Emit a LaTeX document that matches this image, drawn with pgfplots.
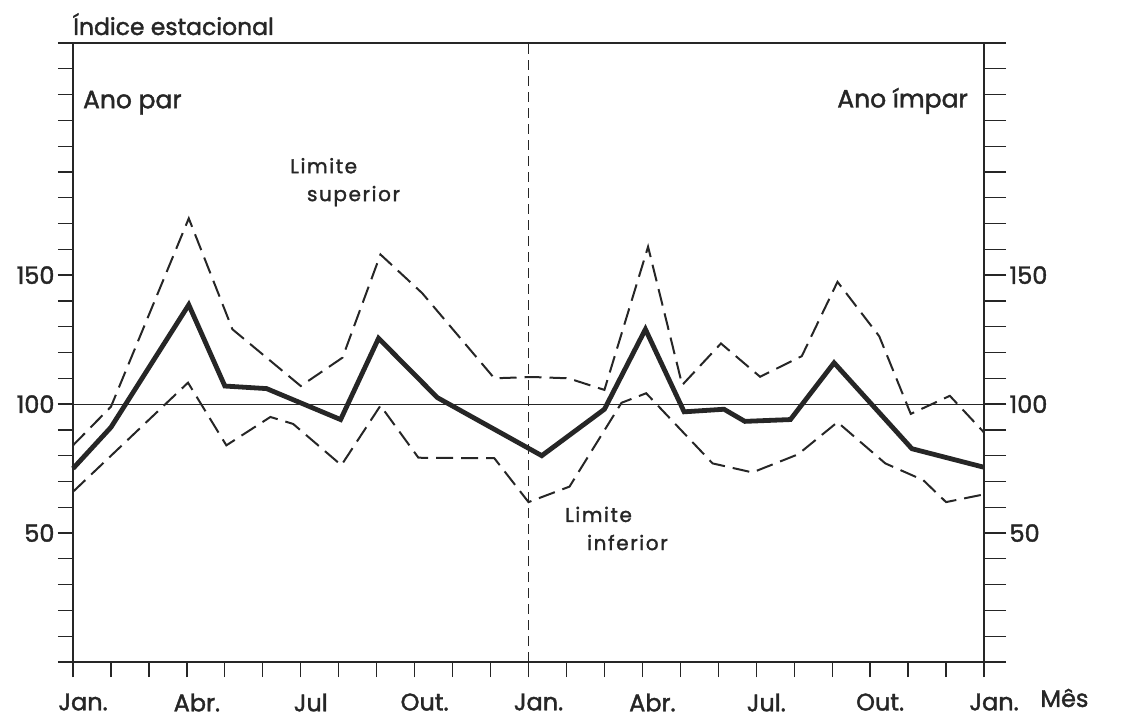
\documentclass[border=0pt]{standalone}
\usepackage{pgfplots}
\pgfplotsset{compat=1.18}
\usepackage{pgfplotstable}
\usepackage{fontspec}
\setmainfont{Poppins}[FakeBold=1.6,AutoFakeBold=0]
\newfontfamily\mainfnt{Poppins}[FakeBold=1.6]
\newfontfamily\limfont{Poppins}[LetterSpace=8,FakeBold=1.6]
\definecolor{ink}{RGB}{38,38,38}

\pgfplotstableread{
x y
0 75
1 91
3.05 138.5
4 107
5.1 106
7.05 94
8.05 125.5
9.6 102.5
12.35 80
14 98
15.08 129
16.1 97
17.15 98
17.7 93.3
18.9 94
20.05 116
22.1 82.7
24 75.5
}\meantab

\pgfplotstableread{
x y
0 84
1 99
3.05 172
4.2 129
6 107
7.1 118
8.1 158
9.2 143
11.1 110
12.1 110.5
13.05 110
14 105.5
15.15 161
16.05 107.4
17.07 123.5
18.1 110.6
19.2 118.6
20.14 147.4
21.24 126.3
22.07 96.2
23.1 103.2
24 89
}\uppertab

\pgfplotstableread{
x y
0 66
3.03 108.3
4.04 84
5.2 95
5.8 92.3
7.07 76.3
8.1 99.4
9.1 79.2
11.1 79
12 62
13.08 68
14.45 100.5
15.1 104.2
16.85 77
17.9 73.5
19.1 80.5
20.14 93
21.4 77
22.4 70.5
23 62
24 65
}\lowertab

\begin{document}
\begin{tikzpicture}[x=1pt,y=1pt]
\useasboundingbox (-73,-56) rectangle (1053,662);
\begin{axis}[
  at={(0,0)}, anchor=south west,
  scale only axis, width=911pt, height=619pt,
  xmin=0, xmax=24, ymin=0, ymax=240,
  clip=false,
  axis line style={ink, line width=1.3pt},
  every tick/.style={ink, line width=1.3pt},
  tick align=outside,
  major tick length=15pt, minor tick length=15pt,
  xtick={0,3,...,24}, minor xtick={0,...,24},
  xticklabels={Jan.,Abr.,Jul,Out.,Jan.,Abr.,Jul.,Out.,Jan.},
  xtick pos=left,
  ytick={50,100,150}, minor ytick={0,10,...,240},
  yticklabels={50,100,150},
  ytick pos=left,
  ticklabel style={font=\mainfnt\fontsize{24pt}{24pt}\selectfont, text=ink},
  xticklabel style={xshift=10pt, yshift=-13pt},
]
\addplot[ink, line width=1.1pt] coordinates {(0,100) (24,100)};
\addplot[ink, line width=1.1pt, dash pattern=on 10pt off 6pt] coordinates {(12,0) (12,240)};
\addplot[ink, line width=2pt, dash pattern=on 17pt off 8pt] table[x=x,y=y] {\uppertab};
\addplot[ink, line width=2pt, dash pattern=on 17pt off 8pt] table[x=x,y=y] {\lowertab};
\addplot[ink, line width=4.8pt, line join=miter] table[x=x,y=y] {\meantab};

\node[anchor=base west, inner sep=0, yshift=8pt, text=ink, font=\mainfnt\fontsize{23.5pt}{23.5pt}\selectfont] at (rel axis cs:0,1) {Índice estacional};
\node[anchor=base west, inner sep=0, text=ink, font=\mainfnt\fontsize{25pt}{25pt}\selectfont] at (axis cs:0.26,214.7) {Ano par};
\node[anchor=base east, inner sep=0, text=ink, font=\mainfnt\fontsize{25pt}{25pt}\selectfont] at (axis cs:23.58,215) {Ano ímpar};
\node[anchor=base west, inner sep=0, text=ink, font=\limfont\fontsize{20pt}{20pt}\selectfont] at (axis cs:5.72,189.5) {Limite};
\node[anchor=base west, inner sep=0, text=ink, font=\limfont\fontsize{20pt}{20pt}\selectfont] at (axis cs:6.16,178.7) {superior};
\node[anchor=base west, inner sep=0, text=ink, font=\limfont\fontsize{20pt}{20pt}\selectfont] at (axis cs:12.96,54.3) {Limite};
\node[anchor=base west, inner sep=0, text=ink, font=\limfont\fontsize{20pt}{20pt}\selectfont] at (axis cs:13.54,43.4) {inferior};
\node[anchor=base west, inner sep=0, text=ink, font=\mainfnt\fontsize{24pt}{24pt}\selectfont] at (axis cs:25.48,-17.4) {Mês};
\end{axis}
\begin{axis}[
  at={(0,0)}, anchor=south west,
  scale only axis, width=911pt, height=619pt,
  xmin=0, xmax=24, ymin=0, ymax=240,
  hide x axis,
  axis y line*=right,
  axis line style={ink, line width=1.3pt},
  every tick/.style={ink, line width=1.3pt},
  tick align=outside,
  major tick length=22pt, minor tick length=22pt,
  ytick={50,100,150}, minor ytick={0,10,...,240},
  yticklabels={50,100,150},
  ticklabel style={font=\mainfnt\fontsize{24pt}{24pt}\selectfont, text=ink},
]
\end{axis}
\end{tikzpicture}
\end{document}
